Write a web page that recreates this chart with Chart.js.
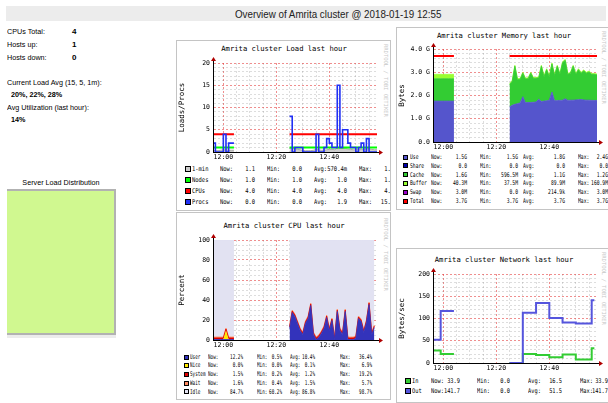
<!DOCTYPE html>
<html>
<head>
<meta charset="utf-8">
<title>Amrita cluster overview</title>
<script src="https://cdn.jsdelivr.net/npm/chart.js@4.4.1/dist/chart.umd.min.js"></script>
<style>
  body { margin: 0; width: 608px; height: 403px; overflow: hidden; background: #fff; position: relative;
         font-family: "Liberation Sans", Arial, sans-serif; color: #000; }
  .t { position: absolute; white-space: pre; line-height: 1; }
  .sq { position: absolute; box-sizing: border-box; border: 1px solid #000; }
  .panel { position: absolute; box-sizing: border-box; border: 1px solid #c4c4c4; background: #fff; overflow: hidden; }
  .panel canvas { position: absolute; }
  .rrd { position: absolute; writing-mode: vertical-rl; font-family: "DejaVu Sans Mono", monospace;
         font-size: 5.5px; color: #c8c8c8; white-space: pre; }
  #bar { position: absolute; left: 6px; top: 6px; width: 600px; height: 15px; background: #ececec; }
  #loadbox { position: absolute; left: 7px; top: 189px; width: 107px; height: 142px; background: #d0f890;
             border-top: 2px solid #b2b2b2; border-right: 2px solid #b2b2b2; border-bottom: 2px solid #b2b2b2;
             box-shadow: 0 3px 0 #ececec; }
</style>
</head>
<body>
<div id="bar"></div>
<div id="loadbox"></div>
<script>
// minutes after 12:00, one sample a minute; null = no data (gmond was down 12:05 - 12:24)
const minutes = [-4,-3,-2,-1,0,1,2,3,4,5,6,7,8,9,10,11,12,13,14,15,16,17,18,19,20,21,22,23,24,
  25,26,27,28,29,30,31,32,33,34,35,36,37,38,39,40,41,42,43,44,45,46,47,48,49,50,51,52,53,54,55,56,57,58];
const _ = null;

// x axis
const xMin = -3.9, xMax = 58;
const xTickMinutes = [0, 20, 40];
const xTickLabels = ['12:00', '12:20', '12:40'];
const xGridMinutes = [0,5,10,15,20,25,30,35,40,45,50,55];

// Load last hour
const loadOne   = [0.4,0.3,0.3,0.4,0.5,0.5,0.4,0.4,0.4, _,_,_,_,_,_,_,_,_,_,_,_,_,_,_,_,_,_,_,_,
  0.8,0.9,0.7,0.6,0.5,0.4,0.3,0.3,0.3,0.4,0.6,0.5,0.4,0.4,0.5,0.6,0.6,0.5,0.9,0.9,0.8,0.8,0.7,0.6,0.5,0.5,0.5,0.6,0.6,0.7,0.7,0.6,0.5,0.5];
const loadNodes = [1,1,1,1,1,1,1,1,1, _,_,_,_,_,_,_,_,_,_,_,_,_,_,_,_,_,_,_,_,
  1,1,1,1,1,1,1,1,1,1,1,1,1,1,1,1,1,1,1,1,1,1,1,1,1,1,1,1,1,1,1,1,1,1];
const loadCpus  = [4,4,4,4,4,4,4,4,4, _,_,_,_,_,_,_,_,_,_,_,_,_,_,_,_,_,_,_,_,
  4,4,4,4,4,4,4,4,4,4,4,4,4,4,4,4,4,4,4,4,4,4,4,4,4,4,4,4,4,4,4,4,4,4];
const loadProcs = [2,0,0,0,4,0,2,2,2, _,_,_,_,_,_,_,_,_,_,_,_,_,_,_,_,_,_,_,_,
  8,0,1,1,1,0,0,0,0,0,4,0,0,1,3,2,1,1,15,1,5,5,2,1,1,0,1,2,0,3,0,0,0,0];
const loadYTicks = [0, 5, 10, 15, 20];
const loadYLabels = ['0', '5', '10', '15', '20'];

// Memory last hour (GB)
const memUse    = [1.76,1.76,1.76,1.76,1.76,1.76,1.76,1.76,1.76, _,_,_,_,_,_,_,_,_,_,_,_,_,_,_,_,_,_,_,_,
  1.51,1.58,1.62,1.65,1.68,1.95,1.69,1.7,1.7,1.71,1.72,1.84,1.74,1.76,1.77,1.8,2.15,1.77,1.78,1.79,1.8,1.86,1.79,1.8,1.8,1.81,1.82,1.83,1.81,1.8,1.8,1.79,1.79,1.78];
const memShare  = [0,0,0,0,0,0,0,0,0, _,_,_,_,_,_,_,_,_,_,_,_,_,_,_,_,_,_,_,_,
  0,0,0,0,0,0,0,0,0,0,0,0,0,0,0,0,0,0,0,0,0,0,0,0,0,0,0,0,0,0,0,0,0,0];
const memCache  = [0.96,0.96,0.96,0.96,0.96,0.96,0.96,0.96,0.96, _,_,_,_,_,_,_,_,_,_,_,_,_,_,_,_,_,_,_,_,
  0.95,1.03,1.64,1.03,1.02,1.01,1.02,1.02,1.26,1.03,1.02,0.92,1.52,1.05,1.34,1.01,1.21,1.09,1.48,1.12,1.61,1.65,1.12,1.16,1.46,1.1,1.29,1.13,1.25,1.16,1.21,1.12,1.12,1.1];
const memBuffer = [0.19,0.19,0.19,0.19,0.19,0.19,0.19,0.19,0.19, _,_,_,_,_,_,_,_,_,_,_,_,_,_,_,_,_,_,_,_,
  0.04,0.04,0.04,0.04,0.04,0.04,0.04,0.04,0.04,0.04,0.04,0.04,0.04,0.04,0.04,0.04,0.04,0.04,0.04,0.04,0.04,0.04,0.04,0.04,0.04,0.04,0.04,0.04,0.04,0.04,0.04,0.04,0.04,0.04];
const memTotal  = [3.7,3.7,3.7,3.7,3.7,3.7,3.7,3.7,3.7, _,_,_,_,_,_,_,_,_,_,_,_,_,_,_,_,_,_,_,_,
  3.7,3.7,3.7,3.7,3.7,3.7,3.7,3.7,3.7,3.7,3.7,3.7,3.7,3.7,3.7,3.7,3.7,3.7,3.7,3.7,3.7,3.7,3.7,3.7,3.7,3.7,3.7,3.7,3.7,3.7,3.7,3.7,3.7,3.7];
const memYTicks = [0, 1, 2, 3, 4];
const memYLabels = ['0.0', '1.0 G', '2.0 G', '3.0 G', '4.0 G'];

// CPU last hour (%)
const cpuUser   = [0.5,0.5,0.5,0.5,0.5,0.5,0.5,0.5,0.5, _,_,_,_,_,_,_,_,_,_,_,_,_,_,_,_,_,_,_,_,
  11.5,27.5,23.5,16.5,9.5,5.5,16.5,21.5,34.5,5.5,0.5,2.5,6.5,11.5,22.5,9.5,19.5,0.5,28.5,9.5,5.5,28.5,0.5,0.5,0.5,1.5,21.5,18.5,7.5,17.5,35.5,5.5,12.5,_];
const cpuNice   = [0,0,0,0,0,9,0,0,0, _,_,_,_,_,_,_,_,_,_,_,_,_,_,_,_,_,_,_,_,
  0,0,0,0,0,0,0,0,0,0,0,0,0,0,0,0,0,0,0,0,0,0,0,0,0,0,0,0,0,0,0,0,0,_];
const cpuSystem = [1.5,1.5,1.5,1.5,1.5,1.5,1.5,1.5,1.5, _,_,_,_,_,_,_,_,_,_,_,_,_,_,_,_,_,_,_,_,
  1.5,1.5,1.5,1.5,1.5,1.5,1.5,1.5,1.5,1.5,1.5,1.5,1.5,1.5,1.5,1.5,1.5,1.5,1.5,1.5,1.5,1.5,1.5,1.5,1.5,1.5,1.5,1.5,1.5,1.5,1.5,1.5,1.5,_];
const cpuWait   = [1,1,1,1,1,1,1,1,1, _,_,_,_,_,_,_,_,_,_,_,_,_,_,_,_,_,_,_,_,
  1,1,1,1,1,1,1,1,1,1,1,1,1,1,1,1,1,1,1,1,1,1,1,1,1,1,1,1,1,1,1,1,1,_];
const cpuIdle   = [97,97,97,97,97,88,97,97,97, _,_,_,_,_,_,_,_,_,_,_,_,_,_,_,_,_,_,_,_,
  86,70,74,81,88,92,81,76,63,92,97,95,91,86,75,88,78,97,69,88,92,69,97,97,97,96,76,79,90,80,62,92,85,_];
const cpuYTicks = [0, 20, 40, 60, 80, 100];
const cpuYLabels = ['0', '20', '40', '60', '80', '100'];

// Network last hour (bytes/sec)
const netIn  = [28,28,28,20,20,20,20,20,20, _,_,_,_,_,_,_,_,_,_,_,_,_,_,_,_,_,_,_,_,
  0,0,0,0,0,20,20,20,20,20,18,18,18,18,18,13,13,13,13,13,19,19,19,19,19,8,8,8,8,8,8,33,33,_];
const netOut = [52,52,52,117,117,117,117,117,117, _,_,_,_,_,_,_,_,_,_,_,_,_,_,_,_,_,_,_,_,
  0,0,0,0,0,113,113,113,113,113,135,135,135,135,135,101,101,101,101,101,91,91,91,91,91,89,89,89,89,89,89,141,141,_];
const netYTicks = [0, 50, 100, 150, 200];
const netYLabels = ['0', '50', '100', '150', '200'];

// legend rows: label, now, min, avg, max
const loadLegend = [
  ['1-min', '1.1', '0.0', '570.4m', '1.1'],
  ['Nodes', '1.0', '1.0', '1.0', '1.0'],
  ['CPUs', '4.0', '4.0', '4.0', '4.0'],
  ['Procs', '0.0', '0.0', '1.9', '15.0']
];
const memLegend = [
  ['Use', '1.5G', '1.5G', '1.8G', '2.4G'],
  ['Share', '0.0', '0.0', '0.0', '0.0'],
  ['Cache', '1.6G', '596.5M', '1.1G', '1.2G'],
  ['Buffer', '40.3M', '37.5M', '89.9M', '160.9M'],
  ['Swap', '3.0M', '0.0', '214.9k', '3.0M'],
  ['Total', '3.7G', '3.7G', '3.7G', '3.7G']
];
const cpuLegend = [
  ['User', '12.2%', '0.5%', '10.4%', '36.4%'],
  ['Nice', '0.0%', '0.0%', '0.1%', '6.9%'],
  ['System', '1.5%', '0.2%', '1.2%', '19.2%'],
  ['Wait', '1.6%', '0.4%', '1.5%', '5.7%'],
  ['Idle', '84.7%', '60.2%', '86.8%', '98.7%']
];
const netLegend = [
  ['In', '33.9', '0.0', '16.5', '33.9'],
  ['Out', '141.7', '0.0', '51.5', '141.7']
];

const MAJOR = 'rgba(225,50,50,0.55)';
const MINOR = 'rgba(120,120,120,0.25)';
const MONO = '"DejaVu Sans Mono", monospace';
const SANS = '"Liberation Sans", Arial, sans-serif';
Chart.defaults.font.family = 'DejaVu Sans Mono';

const body = document.body;
body.ox = 0; body.oy = 0;

function put(p, text, x, y, o) {
  o = o || {};
  const d = document.createElement('div');
  d.className = 't';
  d.textContent = text;
  const fs = o.size || 6.5;
  d.style.fontSize = fs + 'px';
  d.style.fontFamily = o.font || MONO;
  if (o.bold) d.style.fontWeight = 'bold';
  if (o.color) d.style.color = o.color;
  d.style.top = (y - p.oy - fs / 2) + 'px';
  if (o.align === 'right') {
    d.style.left = (x - p.ox - 300) + 'px'; d.style.width = '300px'; d.style.textAlign = 'right';
  } else if (o.align === 'center') {
    d.style.left = (x - p.ox - 150) + 'px'; d.style.width = '300px'; d.style.textAlign = 'center';
  } else {
    d.style.left = (x - p.ox) + 'px';
  }
  if (o.sx) {
    d.style.transform = 'scaleX(' + o.sx + ')';
    d.style.transformOrigin = o.align === 'right' ? '100% 50%' : o.align === 'center' ? '50% 50%' : '0 50%';
  }
  p.appendChild(d);
  return d;
}

function panel(x, y, w, h) {
  const d = document.createElement('div');
  d.className = 'panel';
  d.style.left = x + 'px'; d.style.top = y + 'px';
  d.style.width = w + 'px'; d.style.height = h + 'px';
  body.appendChild(d);
  d.ox = x + 1; d.oy = y + 1;
  return d;
}

function watermark(p, x, y) {
  const d = document.createElement('div');
  d.className = 'rrd';
  d.textContent = 'RRDTOOL / TOBI OETIKER';
  d.style.left = (x - p.ox) + 'px'; d.style.top = (y - p.oy) + 'px';
  p.appendChild(d);
}

function legend(p, rows, colors, L) {
  rows.forEach((r, i) => {
    const y = L.y0 + i * L.dy;
    const sq = document.createElement('div');
    sq.className = 'sq';
    sq.style.left = (L.sqX - p.ox) + 'px';
    sq.style.top = (y - p.oy - L.sq / 2) + 'px';
    sq.style.width = L.sq + 'px'; sq.style.height = L.sq + 'px';
    sq.style.background = colors[i];
    p.appendChild(sq);
    const f = { size: L.fs, sx: L.sx };
    const fr = { size: L.fs, sx: L.sx, align: 'right' };
    put(p, r[0], L.c[0], y, f);
    put(p, 'Now:', L.c[1], y, f);
    put(p, r[1], L.c[2], y, fr);
    put(p, 'Min:', L.c[3], y, f);
    put(p, r[2], L.c[4], y, fr);
    put(p, 'Avg:', L.c[5], y, f);
    put(p, r[3], L.c[6], y, fr);
    put(p, 'Max:', L.c[7], y, f);
    put(p, r[4], L.c[8], y, fr);
  });
}

// small rrdtool style arrows at the axis ends
const axisArrows = {
  id: 'axisArrows',
  afterDraw(chart) {
    const { ctx, chartArea: a } = chart;
    ctx.save();
    ctx.strokeStyle = '#000';
    ctx.lineWidth = 1;
    ctx.beginPath();
    ctx.moveTo(a.left + 0.5, a.top); ctx.lineTo(a.left + 0.5, a.top - 3);
    ctx.moveTo(a.right, a.bottom + 0.5); ctx.lineTo(a.right + 3, a.bottom + 0.5);
    ctx.stroke();
    ctx.fillStyle = '#b00000';
    ctx.beginPath();
    ctx.moveTo(a.left - 2, a.top - 2); ctx.lineTo(a.left + 3, a.top - 2); ctx.lineTo(a.left + 0.5, a.top - 6);
    ctx.fill();
    ctx.beginPath();
    ctx.moveTo(a.right + 2, a.bottom - 2); ctx.lineTo(a.right + 2, a.bottom + 3); ctx.lineTo(a.right + 6, a.bottom + 0.5);
    ctx.fill();
    ctx.restore();
  }
};

function graph(p, c) {
  const cv = document.createElement('canvas');
  cv.width = c.w; cv.height = c.h;
  cv.style.left = (c.x - p.ox) + 'px';
  cv.style.top = (c.y - p.oy) + 'px';
  p.appendChild(cv);
  return new Chart(cv, {
    type: 'line',
    data: { labels: minutes, datasets: c.datasets },
    options: {
      responsive: false,
      animation: false,
      events: [],
      layout: { padding: { left: 0, top: c.padTop, right: 7, bottom: 0 } },
      plugins: { legend: { display: false }, tooltip: { enabled: false } },
      elements: { point: { radius: 0 }, line: { tension: 0 } },
      scales: {
        x: {
          type: 'linear', min: xMin, max: xMax,
          afterFit: s => { s.height = 10; },
          afterBuildTicks: s => { s.ticks = xGridMinutes.map(v => ({ value: v })); },
          ticks: {
            autoSkip: false, maxRotation: 0, minRotation: 0, padding: 1, color: '#000',
            font: { size: 6.5 },
            callback: v => { const k = xTickMinutes.indexOf(v); return k < 0 ? '' : xTickLabels[k]; }
          },
          grid: { drawTicks: false, color: g => (g.tick && xTickMinutes.includes(g.tick.value)) ? MAJOR : MINOR },
          border: { color: '#000', dash: [2, 2], z: 1 }
        },
        y: {
          min: 0, max: c.yMax, stacked: !!c.stacked,
          afterFit: s => { s.width = 36; },
          afterBuildTicks: s => {
            const t = [];
            for (let v = 0; v <= c.yMax + 1e-9; v += c.yMinor) t.push({ value: +v.toFixed(3) });
            s.ticks = t;
          },
          ticks: {
            autoSkip: false, padding: 3, color: '#000', font: { size: 6.5 },
            callback: v => { const k = c.yTicks.indexOf(v); return k < 0 ? '' : c.yLabels[k]; }
          },
          grid: { drawTicks: false, color: g => (g.tick && c.yTicks.includes(g.tick.value)) ? MAJOR : MINOR },
          border: { color: '#000', dash: [2, 2], z: 1 },
          title: { display: true, text: c.yTitle, color: '#000', font: { size: 7.5 }, padding: { top: 0.5, bottom: 0 } }
        }
      }
    },
    plugins: [axisArrows]
  });
}

// ---- header and summary ----
put(body, 'Overview of Amrita cluster @ 2018-01-19 12:55', 235, 14, { font: SANS, size: 11, sx: 0.89, color: '#222' });
put(body, 'CPUs Total:', 7, 32, { font: SANS, size: 8, sx: 0.9 });
put(body, '4', 72, 32, { font: SANS, size: 8, bold: true });
put(body, 'Hosts up:', 7, 45, { font: SANS, size: 8, sx: 0.9 });
put(body, '1', 72, 45, { font: SANS, size: 8, bold: true });
put(body, 'Hosts down:', 7, 58, { font: SANS, size: 8, sx: 0.9 });
put(body, '0', 72, 58, { font: SANS, size: 8, bold: true });
put(body, 'Current Load Avg (15, 5, 1m):', 7, 83, { font: SANS, size: 8, sx: 0.9 });
put(body, '20%, 22%, 28%', 11, 95, { font: SANS, size: 8, sx: 0.9, bold: true });
put(body, 'Avg Utilization (last hour):', 7, 108, { font: SANS, size: 8, sx: 0.9 });
put(body, '14%', 11, 120, { font: SANS, size: 8, sx: 0.9, bold: true });
put(body, 'Server Load Distribution', 61, 183, { font: SANS, size: 8, sx: 0.9, align: 'center' });

// ---- Load ----
const pLoad = panel(176, 40, 215, 171);
put(pLoad, 'Amrita cluster Load last hour', 284, 49, { size: 7.2, align: 'center' });
watermark(pLoad, 383, 44);
graph(pLoad, {
  x: 177, y: 50, w: 207, h: 112, padTop: 13,
  yMax: 20, yMinor: 1, yTicks: loadYTicks, yLabels: loadYLabels, yTitle: 'Loads/Procs',
  datasets: [
    { data: loadProcs, borderColor: '#2030f4', borderWidth: 1.6, stepped: true, fill: false },
    { data: loadCpus, borderColor: '#ff0000', borderWidth: 2, stepped: true, fill: false },
    { data: loadNodes, borderColor: '#00ff00', borderWidth: 2, stepped: true, fill: false },
    { data: loadOne, borderColor: '#9a9a9a', borderWidth: 0.8, backgroundColor: '#cccccc', fill: 'origin' }
  ]
});
legend(pLoad, loadLegend, ['#cccccc', '#00ff00', '#ff0000', '#2030f4'], {
  y0: 169, dy: 11, sqX: 185, sq: 6, fs: 6.5, sx: 0.84,
  c: [192, 220, 255, 267, 302, 314, 347, 359, 394]
});

// ---- Memory ----
const pMem = panel(396, 27, 215, 183);
put(pMem, 'Amrita cluster Memory last hour', 504, 36, { size: 7.2, align: 'center' });
watermark(pMem, 601, 31);
graph(pMem, {
  x: 397, y: 40, w: 207, h: 112, padTop: 9, stacked: true,
  yMax: 4, yMinor: 0.2, yTicks: memYTicks, yLabels: memYLabels, yTitle: 'Bytes',
  datasets: [
    { data: memUse, backgroundColor: '#5555cc', borderColor: '#5555cc', borderWidth: 0.8, fill: 'origin' },
    { data: memShare, backgroundColor: '#0000aa', borderWidth: 0, fill: '-1' },
    { data: memCache, backgroundColor: '#33cc33', borderColor: '#33cc33', borderWidth: 0.8, fill: '-1' },
    { data: memBuffer, backgroundColor: '#99ff33', borderColor: '#99ff33', borderWidth: 0.8, fill: '-1' },
    { data: memTotal, stack: 'total', borderColor: '#ff0000', borderWidth: 2, fill: false, order: -1 }
  ]
});
legend(pMem, memLegend, ['#5555cc', '#0000aa', '#33cc33', '#99ff33', '#9900cc', '#ff0000'], {
  y0: 157, dy: 8.9, sqX: 403, sq: 5, fs: 6.5, sx: 0.72,
  c: [410, 431, 467, 480, 518, 523, 565, 578, 608]
});

// ---- CPU ----
const pCpu = panel(176, 212, 215, 188);
put(pCpu, 'Amrita cluster CPU last hour', 284, 226, { size: 7.2, align: 'center' });
watermark(pCpu, 383, 218);
graph(pCpu, {
  x: 177, y: 228, w: 207, h: 122, padTop: 12, stacked: true,
  yMax: 100, yMinor: 5, yTicks: cpuYTicks, yLabels: cpuYLabels, yTitle: 'Percent',
  datasets: [
    { data: cpuUser, backgroundColor: '#3333bb', borderColor: '#3333bb', borderWidth: 0.8, fill: 'origin' },
    { data: cpuNice, backgroundColor: '#ffea00', borderWidth: 0, fill: '-1' },
    { data: cpuSystem, backgroundColor: '#dd0000', borderColor: '#dd0000', borderWidth: 0.8, fill: '-1' },
    { data: cpuWait, backgroundColor: '#ff8a60', borderColor: '#ff8a60', borderWidth: 0.8, fill: '-1' },
    { data: cpuIdle, backgroundColor: '#e2e2f2', borderColor: '#e2e2f2', borderWidth: 0.8, fill: '-1' }
  ]
});
legend(pCpu, cpuLegend, ['#3333bb', '#ffea00', '#dd0000', '#ff8a60', '#e2e2f2'], {
  y0: 357, dy: 8.7, sqX: 184, sq: 5, fs: 6.5, sx: 0.66,
  c: [190, 208, 243, 257, 282, 290, 315, 340, 372]
});

// ---- Network ----
const pNet = panel(396, 248, 215, 155);
put(pNet, 'Amrita cluster Network last hour', 504, 260, { size: 7.2, align: 'center' });
watermark(pNet, 601, 252);
graph(pNet, {
  x: 397, y: 264, w: 207, h: 109, padTop: 10,
  yMax: 200, yMinor: 10, yTicks: netYTicks, yLabels: netYLabels, yTitle: 'Bytes/sec',
  datasets: [
    { data: netOut, borderColor: '#5555dd', borderWidth: 2, stepped: true, fill: false },
    { data: netIn, borderColor: '#33cc33', borderWidth: 2, stepped: true, fill: false }
  ]
});
legend(pNet, netLegend, ['#33cc33', '#5555dd'], {
  y0: 381, dy: 10, sqX: 405, sq: 6, fs: 6.5, sx: 0.82,
  c: [412, 431, 460, 477, 510, 528, 562, 580, 608]
});
</script>
</body>
</html>
